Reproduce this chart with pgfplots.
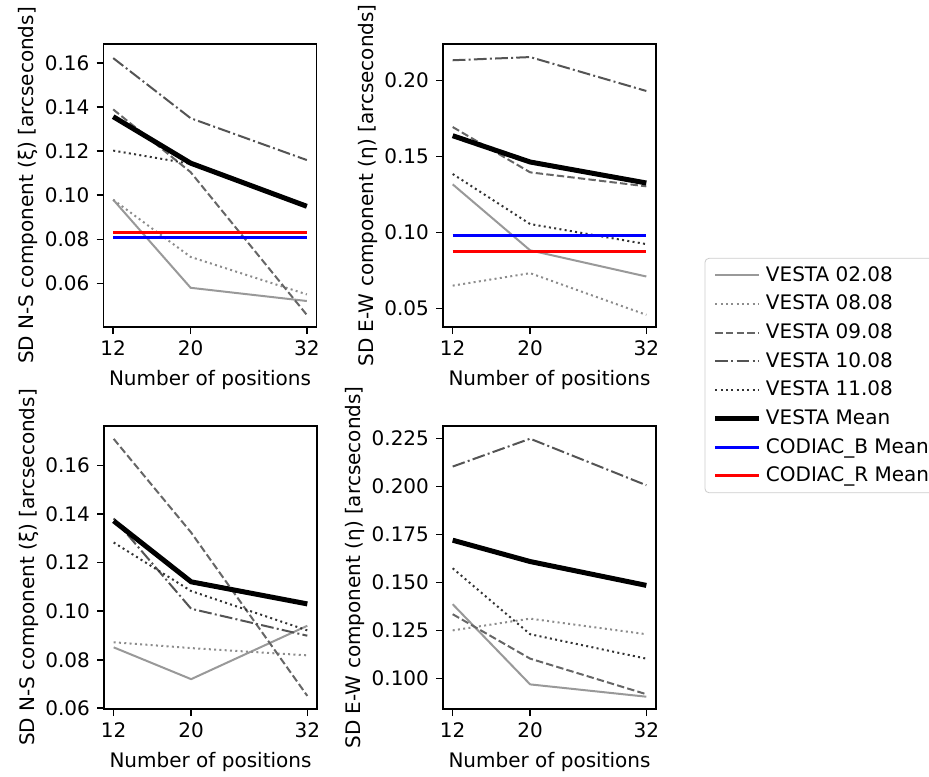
\documentclass[border=0pt]{standalone}
\usepackage{fontspec}
\setmainfont{DejaVu Sans}
\usepackage{pgfplots}
\pgfplotsset{compat=1.18}

\definecolor{c0208}{gray}{0.6}
\definecolor{c0808}{gray}{0.55}
\definecolor{c0908}{gray}{0.4}
\definecolor{c1008}{gray}{0.33}
\definecolor{c1108}{gray}{0.2}

\pgfplotsset{
  s0208/.style={c0208, line width=1pt},
  s0808/.style={c0808, line width=1pt, dash pattern=on 1pt off 1.65pt},
  s0908/.style={c0908, line width=1pt, dash pattern=on 3.7pt off 1.6pt},
  s1008/.style={c1008, line width=1pt, dash pattern=on 6.4pt off 1.6pt on 1pt off 1.6pt},
  s1108/.style={c1108, line width=1pt, dash pattern=on 1pt off 1.65pt},
  smean/.style={black, line width=2.5pt},
  sb/.style={blue, line width=1.6pt},
  sr/.style={red, line width=1.6pt},
  panel/.style={
    width=106.5pt, height=141.5pt, scale only axis,
    anchor=south west,
    xmin=11, xmax=33, xtick={12,20,32},
    no markers,
    every axis plot/.append style={line join=round},
    axis line style={line width=0.8pt},
    tick style={black, line width=0.8pt},
    tick align=outside, major tick length=3.5pt,
    xtick pos=left, ytick pos=left,
    /pgf/number format/assume math mode=true,
    yticklabel style={/pgf/number format/.cd, fixed, fixed zerofill, precision=2},
    ylabel style={yshift=-3.5pt},
    xlabel={Number of positions},
  },
}

\begin{document}
\begin{tikzpicture}
% top left: N-S
\begin{axis}[panel, at={(51.75pt,224.5pt)},
  ymin=0.0402, ymax=0.1687, ytick={0.06,0.08,0.10,0.12,0.14,0.16},
  ylabel={SD N-S component (ξ) [arcseconds]}]
\addplot[s0208] coordinates {(12,0.098) (20,0.058) (32,0.052)};
\addplot[s0808] coordinates {(12,0.098) (20,0.072) (32,0.055)};
\addplot[s0908] coordinates {(12,0.139) (20,0.1105) (32,0.0457)};
\addplot[s1008] coordinates {(12,0.1623) (20,0.135) (32,0.116)};
\addplot[s1108] coordinates {(12,0.1203) (20,0.1143) (32,0.0954)};
\addplot[smean] coordinates {(12,0.1357) (20,0.1146) (32,0.095)};
\addplot[sb] coordinates {(12,0.081) (32,0.081)};
\addplot[sr] coordinates {(12,0.0831) (32,0.0831)};
\end{axis}

% top right: E-W
\begin{axis}[panel, at={(221.5pt,224.5pt)},
  ymin=0.0378, ymax=0.2239, ytick={0.05,0.10,0.15,0.20},
  ylabel={SD E-W component (η) [arcseconds]},
  legend style={at={(1.228,0.244)}, anchor=north west, draw=black!20,
    rounded corners=2pt, font=\normalsize, row sep=1.4pt,
    inner xsep=4pt,
    nodes={inner sep=2pt, text depth=0.15em}},
  legend cell align=left,
  legend image code/.code={\draw[#1] (0pt,0pt) -- (22pt,0pt);}]
\addplot[s0208] coordinates {(12,0.1316) (20,0.0882) (32,0.071)};
\addplot[s0808] coordinates {(12,0.065) (20,0.0732) (32,0.0458)};
\addplot[s0908] coordinates {(12,0.1693) (20,0.1395) (32,0.1303)};
\addplot[s1008] coordinates {(12,0.2132) (20,0.2153) (32,0.193)};
\addplot[s1108] coordinates {(12,0.1384) (20,0.1055) (32,0.0923)};
\addplot[smean] coordinates {(12,0.1636) (20,0.1463) (32,0.1325)};
\addplot[sb] coordinates {(12,0.098) (32,0.098)};
\addplot[sr] coordinates {(12,0.0875) (32,0.0875)};
\legend{VESTA 02.08, VESTA 08.08, VESTA 09.08, VESTA 10.08, VESTA 11.08,
  VESTA Mean, CODIAC\_B Mean, CODIAC\_R Mean}
\end{axis}

% bottom left: N-S
\begin{axis}[panel, at={(52pt,33.5pt)},
  ymin=0.0597, ymax=0.1763, ytick={0.06,0.08,0.10,0.12,0.14,0.16},
  ylabel={SD N-S component (ξ) [arcseconds]}]
\addplot[s0208] coordinates {(12,0.0851) (20,0.072) (32,0.094)};
\addplot[s0808] coordinates {(12,0.0872) (20,0.0848) (32,0.0818)};
\addplot[s0908] coordinates {(12,0.171) (20,0.1324) (32,0.0651)};
\addplot[s1008] coordinates {(12,0.1382) (20,0.101) (32,0.0899)};
\addplot[s1108] coordinates {(12,0.1283) (20,0.1083) (32,0.0921)};
\addplot[smean] coordinates {(12,0.1372) (20,0.1121) (32,0.103)};
\end{axis}

% bottom right: E-W
\begin{axis}[panel, at={(221.5pt,33.5pt)},
  ymin=0.0842, ymax=0.2314, ytick={0.100,0.125,0.150,0.175,0.200,0.225},
  yticklabel style={/pgf/number format/precision=3},
  ylabel={SD E-W component (η) [arcseconds]}]
\addplot[s0208] coordinates {(12,0.1387) (20,0.097) (32,0.0906)};
\addplot[s0808] coordinates {(12,0.1251) (20,0.1312) (32,0.1231)};
\addplot[s0908] coordinates {(12,0.1335) (20,0.1104) (32,0.0919)};
\addplot[s1008] coordinates {(12,0.2103) (20,0.2248) (32,0.2006)};
\addplot[s1108] coordinates {(12,0.1574) (20,0.1231) (32,0.1104)};
\addplot[smean] coordinates {(12,0.172) (20,0.1609) (32,0.1485)};
\end{axis}

\pgfresetboundingbox
\path (0,0) rectangle (464.5pt,388pt);
\end{tikzpicture}
\end{document}
